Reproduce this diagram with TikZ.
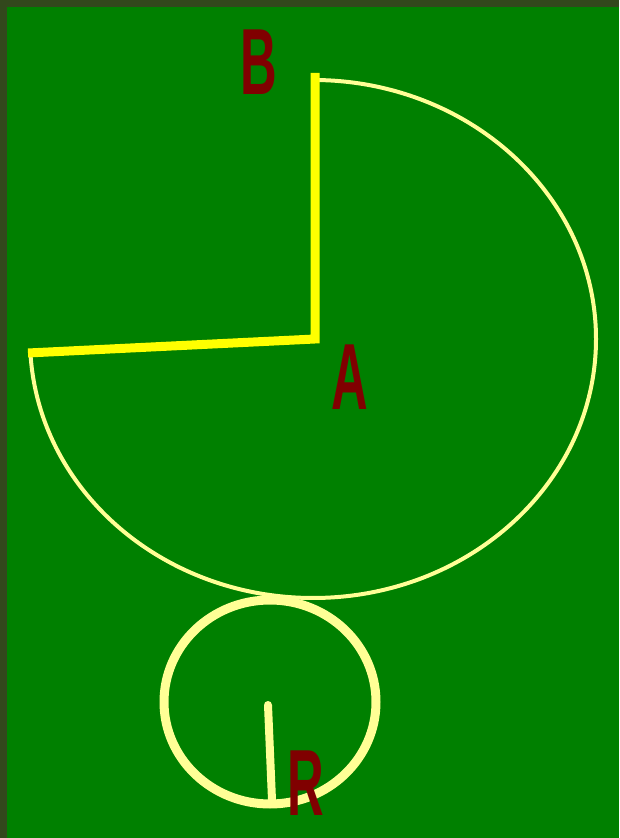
\documentclass[tikz,border=0pt]{standalone}
\usepackage{fontspec}
\setmainfont{Liberation Sans}
\definecolor{field}{RGB}{0,128,0}
\definecolor{edge}{RGB}{50,72,28}
\definecolor{brightyellow}{RGB}{255,255,0}
\definecolor{paleyellow}{RGB}{255,255,150}
\definecolor{letterred}{RGB}{128,0,0}
\begin{document}
\begin{tikzpicture}[x=1pt,y=1pt]
  \tikzset{
    letter/.style={text=letterred,font=\bfseries\fontsize{94}{94}\selectfont,xscale=0.54,inner sep=0pt},
    spoke/.style={draw=brightyellow,line width=9pt,line join=miter},
    rim/.style={draw=paleyellow,line width=4pt}
  }

  \fill[edge] (0,0) rectangle (619,838);
  \fill[field] (7,0) rectangle (619,831);
  \useasboundingbox (0,0) rectangle (619,838);

  \coordinate (A) at (315,499);
  \coordinate (B) at (315,765);
  \coordinate (T) at (313,758);
  \coordinate (L) at (28,485);
  \coordinate (c) at (268,133);
  \coordinate (r) at (272,38);

  % big sector
  \draw[rim] (T) arc[start angle=90,end angle=-176.5,x radius=283,y radius=259];
  \draw[spoke] (L) -- (A) -- (B);

  % small circle
  \draw[rim,line width=9pt] (270,136) ellipse[x radius=106,y radius=102];
  \draw[rim,line width=8pt,line cap=round] (c) -- (r);

  \node[letter] (labB) at (259,776) {B};
  \node[letter] (labA) at (350,461) {A};
  \node[letter] (labR) at (306,55) {R};
\end{tikzpicture}
\end{document}
